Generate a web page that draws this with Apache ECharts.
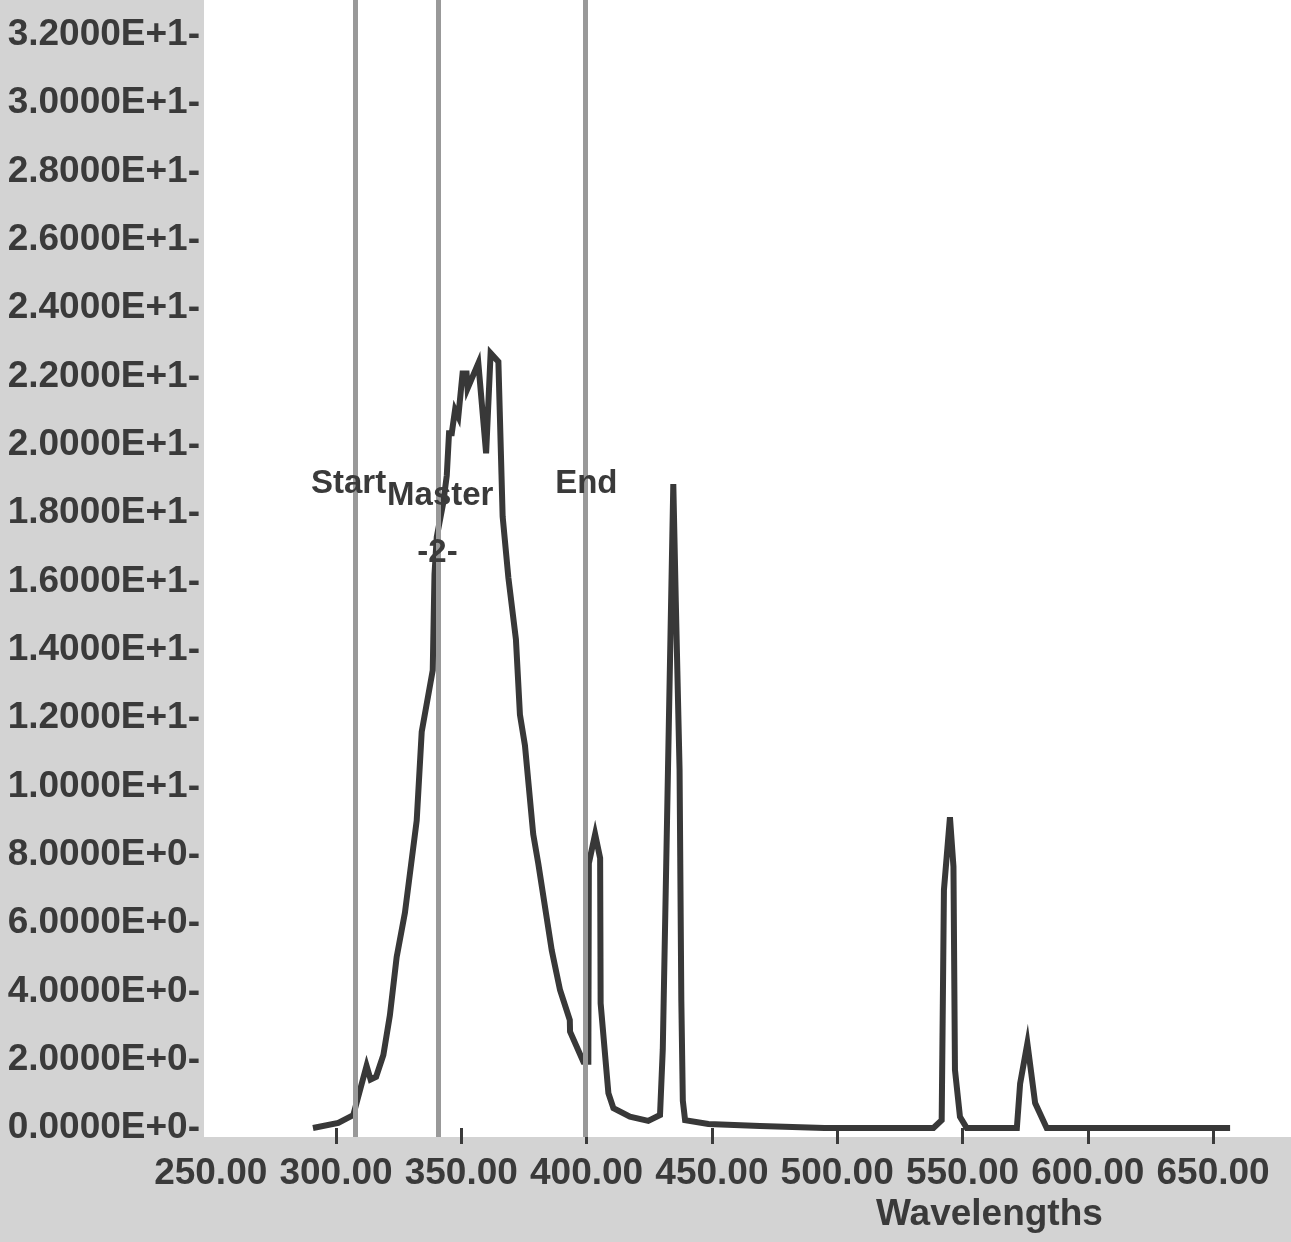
<!DOCTYPE html>
<html>
<head>
<meta charset="utf-8">
<script src="https://cdn.jsdelivr.net/npm/echarts@6/dist/echarts.min.js"></script>
<style>
  html, body { margin: 0; padding: 0; background: #d3d3d3; }
  #chart { width: 1291px; height: 1242px; }
</style>
</head>
<body>
<div id="chart"></div>
<script>
// ---- data ----
const wavelengths = [290.8, 300.9, 306.9, 312.2, 313.8, 316.0, 318.9, 321.5, 324.2, 327.5,
  332.2, 334.2, 338.6, 339.3, 340.2, 342.8, 344.2, 345.1, 346.2, 347.5,
  348.8, 350.5, 352.1, 352.5, 356.8, 359.9, 361.7, 364.8, 366.5, 368.8,
  371.8, 373.4, 375.4, 378.7, 380.7, 386.1, 389.4, 393.3, 393.4, 398.7,
  400.7, 400.9, 403.4, 405.4, 405.6, 408.7, 410.7, 417.3, 424.6, 429.3,
  430.4, 434.6, 435.6, 437.1, 437.8, 438.4, 439.3, 448.6, 469.2, 495.0,
  538.4, 541.7, 542.6, 545.0, 546.4, 547.0, 549.0, 551.7, 571.7, 573.0,
  575.9, 579.0, 583.6, 656.8];
const intensities = [0.0, 0.15, 0.38, 1.82, 1.42, 1.5, 2.14, 3.3, 5.0, 6.3,
  9.0, 11.6, 13.4, 16.2, 17.3, 18.3, 19.1, 20.34, 20.34, 21.02,
  20.82, 22.09, 22.09, 21.65, 22.39, 19.75, 22.68, 22.43, 17.9, 16.1,
  14.3, 12.1, 11.2, 8.6, 7.75, 5.2, 4.04, 3.16, 2.82, 1.94,
  1.94, 7.75, 8.6, 7.9, 3.65, 1.02, 0.58, 0.33, 0.21, 0.38,
  2.3, 18.85, 15.4, 10.5, 3.75, 0.8, 0.23, 0.12, 0.06, 0.0,
  0.0, 0.23, 6.97, 9.1, 7.65, 1.7, 0.33, 0.0, 0.0, 1.3,
  2.48, 0.73, 0.0, 0.0];

const markerNames = ["Start", "Master", "End"];
const markerWavelengths = [307.6, 340.9, 399.4];

const annotationTexts = ["Start", "Master", "End", "-2-"];
const annotationX = [305.0, 341.6, 399.9, 340.5];
const annotationY = [18.85, 18.5, 18.85, 16.83];

const xTickValues = [300, 350, 400, 450, 500, 550, 600, 650];
const xLabelValues = [250, 300, 350, 400, 450, 500, 550, 600, 650];
const yLabelValues = [0, 2, 4, 6, 8, 10, 12, 14, 16, 18, 20, 22, 24, 26, 28, 30, 32];
const xAxisTitle = "Wavelengths";

// ---- chart ----
const TEXT = '#3a3a3a';
const FONT = '"Liberation Sans", Arial, Helvetica, sans-serif';

function sci(v) {
  if (v === 0) return '0.0000E+0-';
  const e = Math.floor(Math.log10(Math.abs(v)) + 1e-9);
  const m = v / Math.pow(10, e);
  return m.toFixed(4) + 'E' + (e >= 0 ? '+' : '') + e + '-';
}

const chart = echarts.init(document.getElementById('chart'), null, { renderer: 'canvas' });

const lineData = wavelengths.map((w, i) => [w, intensities[i]]);
const annoData = annotationTexts.map((t, i) => ({ name: t, value: [annotationX[i], annotationY[i]] }));

chart.setOption({
  backgroundColor: '#d3d3d3',
  animation: false,
  grid: {
    left: 204, right: 0, top: 0, bottom: 105,
    show: true, backgroundColor: '#ffffff', borderWidth: 0
  },
  xAxis: {
    type: 'value',
    min: 247.32, max: 681.1,
    splitLine: { show: false },
    axisLine: { show: false },
    axisTick: { show: true, customValues: xTickValues, length: 16, inside: false,
      lineStyle: { color: TEXT, width: 3 } },
    axisLabel: { customValues: xLabelValues, margin: 18, color: TEXT, fontSize: 37,
      fontWeight: 'bold', fontFamily: FONT, formatter: v => v.toFixed(2) }
  },
  yAxis: {
    type: 'value',
    min: -0.263, max: 33.02,
    splitLine: { show: false },
    axisLine: { show: false },
    axisTick: { show: false },
    axisLabel: { customValues: yLabelValues, margin: 4, color: TEXT, fontSize: 37,
      fontWeight: 'bold', fontFamily: FONT, formatter: v => sci(v) }
  },
  graphic: [{
    type: 'text',
    left: 876, top: 1196,
    style: { text: xAxisTitle, fill: TEXT, font: 'bold 37px ' + FONT }
  }],
  series: [
    {
      type: 'line',
      data: lineData,
      showSymbol: false,
      lineStyle: { color: '#383838', width: 6, join: 'miter' },
      z: 3,
      markLine: {
        silent: true,
        symbol: ['none', 'none'],
        label: { show: false },
        lineStyle: { color: '#999999', width: 5, type: 'solid' },
        data: markerWavelengths.map((w, i) => ({ name: markerNames[i], xAxis: w }))
      }
    },
    {
      type: 'scatter',
      data: annoData,
      symbolSize: 1,
      itemStyle: { opacity: 1, color: 'rgba(0,0,0,0)' },
      emphasis: { disabled: true },
      z: 5,
      label: {
        show: true, position: 'inside', formatter: p => p.name, opacity: 1,
        color: TEXT, fontSize: 33, fontWeight: 'bold', fontFamily: FONT
      }
    }
  ]
});
</script>
</body>
</html>
